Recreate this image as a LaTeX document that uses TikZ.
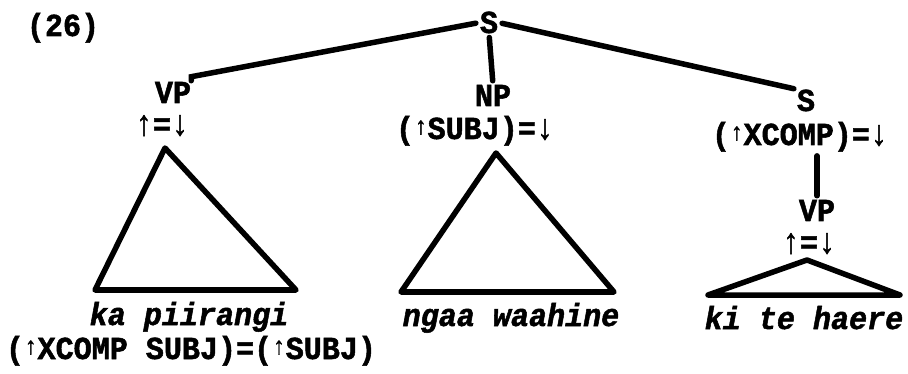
\documentclass[tikz,border=0pt]{standalone}
\usepackage{fontspec}
\setmonofont{Liberation Mono}[BoldFeatures={FakeBold=1.6, FakeStretch=0.94},
    BoldItalicFeatures={FakeBold=1.6, FakeStretch=0.94}]
\usetikzlibrary{positioning}
\newcommand{\upf}{\raisebox{0.3ex}{\fontsize{24}{24}\selectfont ↑}}
\newcommand{\uar}{\scalebox{1}[1.1]{↑}}
\newcommand{\dar}{\scalebox{1}[1.1]{↓}}

\begin{document}
\begin{tikzpicture}[x=1pt, y=-1pt,
    cat/.style={font=\ttfamily\bfseries\fontsize{32}{33}\selectfont,
        anchor=base, inner sep=0pt},
    lex/.style={font=\ttfamily\bfseries\itshape\fontsize{32}{33}\selectfont,
        anchor=base, inner sep=0pt},
    branch/.style={line width=5.5pt, line cap=round, shorten <=4pt},
    tri/.style={line width=5.5pt, line join=round, line cap=round}
]
\useasboundingbox (0,0) rectangle (908,374);

\node[cat] (ex) at (63,36) {(26)};
\node[cat] (s) at (489,33) {S};

% left daughter
\node[cat] (vp) at (173,103) {VP};
\node[cat] (vpeq) at (162,135) {\uar=\dar};
\coordinate (vptop) at (165,148);
\coordinate (vpl) at (95,290);
\coordinate (vpr) at (296,290);
\node[lex] (kap) at (189,325) {ka piirangi};
\node[cat] (ctrl) at (191,359) {(\upf XCOMP SUBJ)=(\upf SUBJ)};

% middle daughter
\node[cat] (np) at (493,106) {NP};
\node[cat] (npeq) at (475,139) {(\upf SUBJ)=\dar};
\coordinate (nptop) at (496,153);
\coordinate (npl) at (401,292);
\coordinate (npr) at (614,292);
\node[lex] (ngaa) at (511,326) {ngaa waahine};

% right daughter
\node[cat] (s2) at (806,111) {S};
\node[cat] (s2eq) at (800,145) {(\upf XCOMP)=\dar};
\node[cat] (vp2) at (817,221) {VP};
\node[cat] (vp2eq) at (809,253) {\uar=\dar};
\coordinate (vp2top) at (807,260);
\coordinate (vp2l) at (708,295);
\coordinate (vp2r) at (900,295);
\node[lex] (ki) at (804,329) {ki te haere};

% branches
\draw[branch] (s.west) -- ([yshift=5pt]vp.north east) -- ([yshift=1pt]vp.north east);
\draw[branch, shorten >=4pt] (s.south) -- (np.north);
\draw[branch, shorten >=3pt] (s.east) -- (s2.north west);
\draw[branch, shorten >=4pt] (vp2.north) -- (vp2.north |- s2eq.south);

% triangles
\draw[tri] (vptop) -- (vpl) -- (vpr) -- cycle;
\draw[tri] (nptop) -- (npl) -- (npr) -- cycle;
\draw[tri] (vp2top) -- (vp2l) -- (vp2r) -- cycle;
\end{tikzpicture}
\end{document}
